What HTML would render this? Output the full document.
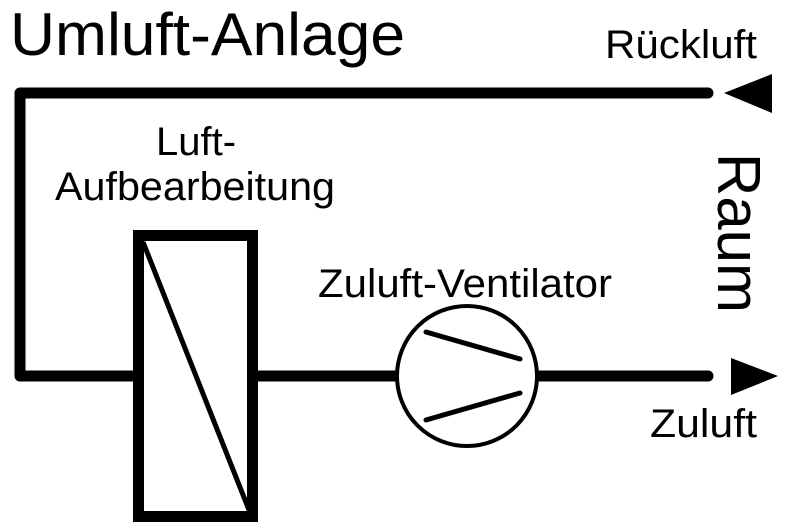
<!DOCTYPE html>
<html><head><meta charset="utf-8"><style>html,body{margin:0;padding:0;background:#fff}svg{display:block}</style></head>
<body>
<svg width="788" height="531" viewBox="0 0 788 531" xmlns="http://www.w3.org/2000/svg" font-family="Liberation Sans, Arial, sans-serif" fill="#000">
<rect width="788" height="531" fill="#fff"/>
<text x="10" y="55" font-size="60" textLength="395" lengthAdjust="spacingAndGlyphs">Umluft-Anlage</text>
<text x="605" y="58" font-size="40" textLength="152" lengthAdjust="spacingAndGlyphs">Rückluft</text>
<text x="196" y="155" font-size="40" text-anchor="middle">Luft-</text>
<text x="55" y="200" font-size="40" textLength="280" lengthAdjust="spacingAndGlyphs">Aufbearbeitung</text>
<text x="318" y="297" font-size="40" textLength="294" lengthAdjust="spacingAndGlyphs">Zuluft-Ventilator</text>
<text x="650" y="437" font-size="40" textLength="107" lengthAdjust="spacingAndGlyphs">Zuluft</text>
<text transform="translate(718,153) rotate(90)" font-size="60" textLength="160" lengthAdjust="spacingAndGlyphs">Raum</text>
<!-- lines -->
<path d="M708 93 H20 V376 H133" fill="none" stroke="#000" stroke-width="11" stroke-linejoin="round" stroke-linecap="round"/>
<line x1="258" y1="376" x2="396" y2="376" stroke="#000" stroke-width="11"/>
<path d="M537 376 H708" fill="none" stroke="#000" stroke-width="11" stroke-linecap="round"/>
<!-- box -->
<rect x="138.5" y="235.5" width="114" height="281" fill="#fff" stroke="#000" stroke-width="11"/>
<line x1="143" y1="242" x2="249" y2="510" stroke="#000" stroke-width="5"/>
<!-- fan -->
<circle cx="467" cy="376" r="70" fill="#fff" stroke="#000" stroke-width="4"/>
<line x1="426" y1="332" x2="520" y2="359" stroke="#000" stroke-width="5" stroke-linecap="round"/>
<line x1="426" y1="420" x2="520" y2="393" stroke="#000" stroke-width="5" stroke-linecap="round"/>
<!-- arrows -->
<polygon points="724,93 772,74 772,113"/>
<polygon points="731,358 731,395 778,376"/>
</svg>
</body></html>
